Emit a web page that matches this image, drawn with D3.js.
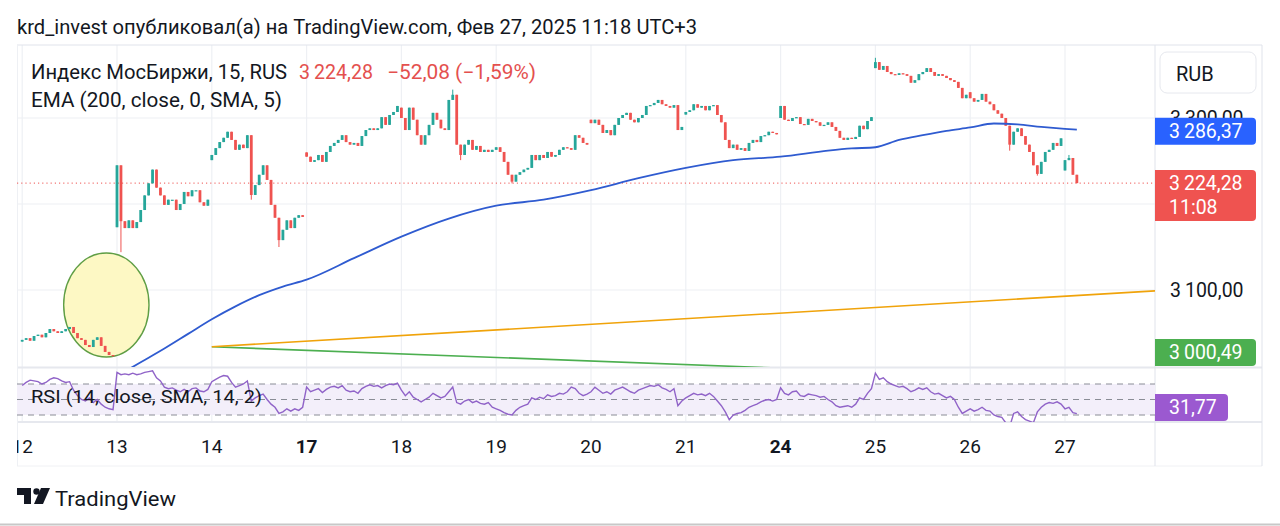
<!DOCTYPE html>
<html>
<head>
<meta charset="utf-8">
<title>IMOEX 15</title>
<script src="https://d3js.org/d3.v7.min.js"></script>
<style>
  body { margin: 0; background: #fff; }
</style>
</head>
<body>
<div id="chart"></div>
<script>
// ---- data ----
var days = ["12", "13", "14", "17", "18", "19", "20", "21", "24", "25", "26", "27"]
var boldDays = ["17", "24"]
var barsPerDay = 24

// open of the first bar of every day (gaps)
var dayOpens = [3040, 3173, 3251, 3260, 3312, 3263, 3298, 3304, 3300, 3358, 3330, 3239]

// closes of the 15 min bars (every second bar)
var close12 = [3042, 3044, 3041, 3046.5, 3048, 3045, 3050, 3054.6, 3052, 3050, 3052, 3054.6, 3057, 3050, 3044, 3042, 3036, 3033.7, 3042, 3045, 3035, 3028, 3024.4, 3023]
var close13 = [3245, 3180, 3172, 3181, 3172, 3179, 3193, 3210, 3224, 3240, 3219, 3210, 3199, 3205, 3205, 3193, 3200, 3214, 3209, 3216, 3216, 3202, 3198, 3205]
var close14 = [3257, 3265, 3272, 3277, 3284, 3274.5, 3263, 3269, 3265, 3280, 3210.5, 3222, 3234, 3245, 3228, 3199, 3184, 3158, 3170, 3181, 3172, 3184, 3187, 3185]
var close17 = [3255, 3249, 3251, 3257, 3249, 3260.5, 3267.5, 3271, 3274.5, 3280, 3272, 3269, 3271, 3267.5, 3279, 3286, 3288, 3286, 3288, 3301, 3292, 3303.5, 3307, 3314]
var close18 = [3300, 3286, 3312, 3298, 3280, 3269, 3280, 3292, 3306, 3298, 3288, 3286, 3321, 3327, 3269, 3257, 3269, 3274.5, 3263, 3267.5, 3260.5, 3263, 3260.5, 3263]
var close19 = [3266, 3260.5, 3249, 3234, 3226, 3234, 3237, 3240, 3242, 3257, 3251, 3257, 3253.5, 3260.5, 3255, 3257, 3263, 3266, 3265, 3263, 3280, 3277, 3271, 3269]
var close20 = [3294, 3298, 3292, 3282.6, 3286, 3280, 3292, 3300, 3303.5, 3306, 3298, 3295, 3300, 3303.5, 3314, 3315, 3317.5, 3321, 3316, 3314, 3312, 3315, 3286, 3289.6]
var close21 = [3307, 3309, 3316, 3312, 3314, 3309, 3314, 3315, 3303.5, 3295, 3274.5, 3265, 3269, 3263, 3265, 3261.7, 3271, 3274.5, 3272, 3279, 3280, 3284, 3282.6, 3281]
var close24 = [3314, 3298, 3296.5, 3300, 3301, 3293, 3292, 3299, 3296.5, 3295, 3291, 3292, 3295, 3289.6, 3285, 3277, 3274.5, 3277, 3275.6, 3278, 3291, 3287, 3296.5, 3301]
var close25 = [3365, 3356, 3360.5, 3353.5, 3351, 3350, 3352, 3351, 3349, 3341, 3344, 3351, 3353.5, 3358, 3353.5, 3349, 3351, 3349, 3346.5, 3344, 3342, 3335, 3323, 3327]
var close26 = [3323, 3319, 3321, 3328, 3319, 3316, 3309, 3305, 3300, 3291, 3269, 3284, 3288, 3279, 3269, 3260.5, 3245, 3235, 3249, 3260.5, 3263, 3271, 3267.5, 3276.36]
var close27 = [3251, 3253.5, 3234, 3224.28]

// long wicks: [bar index, high, low]
var wicks = [[24, 3245, 3173], [25, 3245, 3144], [58, 3280, 3205], [65, 3170, 3150], [109, 3333, 3321],
  [111, 3269, 3251], [124, 3234, 3224], [216, 3370, 3358], [250, 3291, 3262], [257, 3245, 3233], [265, 3257, 3251]]

// EMA(200) line: bar index -> value
var emaBars = [24, 30, 36, 42, 48, 54, 60, 66, 72, 84, 96, 108, 120, 132, 144, 156, 168, 180, 192, 204, 210, 216, 222, 228, 234, 240, 246, 252, 258, 264, 267]
var emaVals = [3000, 3016, 3032, 3049, 3066, 3081, 3094, 3104, 3112, 3137, 3162, 3183, 3198, 3205, 3216, 3230, 3242, 3251, 3255, 3262, 3264.6, 3266, 3274.5, 3280, 3285, 3289, 3293.6, 3292.5, 3289.6, 3287.3, 3286.37]

// RSI(14)
var rsi12 = [68, 72, 75, 74, 73, 70, 72, 76, 78, 77, 74, 72, 73, 62, 55, 50, 48, 52, 46, 50, 44, 40, 38, 37]
var rsi13 = [85, 82, 83, 82, 84, 82, 83, 85, 86, 87, 78, 74, 66, 64, 65, 62, 60, 63, 60, 64, 65, 61, 60, 63]
var rsi14 = [73, 76, 79, 81, 80, 72, 66, 68, 70, 74, 48, 52, 55, 57, 50, 44, 40, 32, 34, 38, 35, 38, 36, 40]
var rsi17 = [66, 60, 62, 64, 59, 63, 66, 67, 65, 68, 62, 60, 61, 58, 64, 67, 69, 67, 68, 65, 68, 70, 69, 71]
var rsi18 = [62, 55, 60, 53, 50, 47, 50, 53, 58, 55, 52, 54, 60, 66, 46, 44, 48, 50, 46, 48, 45, 44, 46, 40]
var rsi19 = [38, 36, 33, 31, 30, 36, 40, 42, 44, 52, 50, 53, 51, 56, 54, 55, 58, 57, 60, 66, 64, 58, 55, 57]
var rsi20 = [60, 66, 62, 58, 60, 57, 62, 64, 66, 63, 60, 58, 62, 64, 66, 68, 67, 69, 65, 63, 60, 64, 42, 48]
var rsi21 = [52, 55, 58, 56, 57, 55, 58, 54, 48, 42, 34, 24, 30, 32, 33, 36, 40, 42, 44, 47, 49, 50, 48, 50]
var rsi24 = [65, 58, 56, 60, 61, 55, 54, 57, 56, 55, 53, 54, 50, 47, 42, 40, 41, 42, 40, 44, 52, 50, 58, 64]
var rsi25 = [84, 76, 78, 73, 70, 68, 66, 67, 64, 60, 62, 65, 63, 65, 60, 57, 58, 55, 52, 54, 50, 40, 32, 35]
var rsi26 = [38, 35, 37, 40, 36, 35, 30, 28, 27, 20, 15, 32, 34, 28, 24, 22, 20, 34, 40, 44, 46, 45, 47, 44]
var rsi27 = [38, 40, 33, 31.77]

// drawings
var yellowLine = [[48, 3034], [287, 3099]]
var greenLine = [[48, 3034], [184, 3010.5]]
var circleMark = {bar: 21.3, price: 3082.6, bars: 10.8, points: 60.5}

// 3 200,00 sits under the red price badge, so it is not shown
var priceTicks = [3100, 3300]
var lastPrice = 3224.28, emaLast = 3286.37, greenLast = 3000.49, rsiLast = 31.77

// ---- layout ----
var W = 1280, H = 526
var left = 17, plotRight = 1155, axisRight = 1262
var paneTop = 45, mainBottom = 367, rsiBottom = 422, axisBottom = 466
var font = "Roboto, 'Noto Sans', sans-serif"
var up = "#26a69a", down = "#ef5350"

var closes = [].concat(close12, close13, close14, close17, close18, close19, close20, close21, close24, close25, close26, close27)
var rsi = [].concat(rsi12, rsi13, rsi14, rsi17, rsi18, rsi19, rsi20, rsi21, rsi24, rsi25, rsi26, rsi27)

var candles = []
closes.forEach(function (c, i) {
  var o = (i % barsPerDay === 0) ? dayOpens[i / barsPerDay] : closes[i - 1]
  candles.push({i: i, o: o, c: c, h: Math.max(o, c), l: Math.min(o, c)})
})
wicks.forEach(function (w) {
  var d = candles[w[0]]
  d.h = Math.max(d.h, w[1]); d.l = Math.min(d.l, w[2])
})

var x = d3.scaleLinear().domain([0, 288]).range([22.2, 22.2 + 288 * 3.95])
var y = d3.scaleLinear().domain([3100, 3300]).range([290, 118])
var yr = d3.scaleLinear().domain([30, 70]).range([415, 384])

var loc = d3.formatLocale({decimal: ",", thousands: "\u2009", grouping: [3], currency: ["", ""]})
var fmt = loc.format(",.2f")

var svg = d3.select("#chart").append("svg")
  .attr("width", W).attr("height", H)
  .style("font-family", font)

var defs = svg.append("defs")
defs.append("clipPath").attr("id", "mainClip").append("rect")
  .attr("x", left).attr("y", paneTop).attr("width", plotRight - left).attr("height", mainBottom - paneTop)
defs.append("clipPath").attr("id", "rsiClip").append("rect")
  .attr("x", left).attr("y", mainBottom).attr("width", plotRight - left).attr("height", rsiBottom - mainBottom)
defs.append("clipPath").attr("id", "timeClip").append("rect")
  .attr("x", left).attr("y", rsiBottom).attr("width", plotRight - left).attr("height", axisBottom - rsiBottom)

// header
svg.append("text").attr("x", 17).attr("y", 34)
  .attr("font-size", 20).attr("fill", "#131722")
  .attr("textLength", 680).attr("lengthAdjust", "spacingAndGlyphs")
  .text("krd_invest опубликовал(а) на TradingView.com, Фев 27, 2025 11:18 UTC+3")

// grid
var grid = svg.append("g")
grid.selectAll(".hg").data([3100, 3200, 3300]).enter().append("line")
  .attr("x1", left).attr("x2", plotRight)
  .attr("y1", function (d) { return y(d) }).attr("y2", function (d) { return y(d) })
  .attr("stroke", "#eef0f4").attr("stroke-width", 1.2)
grid.selectAll(".vg").data(days).enter().append("line")
  .attr("x1", function (d, i) { return x(i * barsPerDay) }).attr("x2", function (d, i) { return x(i * barsPerDay) })
  .attr("y1", paneTop).attr("y2", rsiBottom)
  .attr("stroke", "#eef0f4").attr("stroke-width", 1.2)

// frame
var frame = svg.append("g").attr("stroke", "#e0e3eb").attr("stroke-width", 1)
frame.append("line").attr("x1", left).attr("x2", axisRight).attr("y1", paneTop).attr("y2", paneTop)
frame.append("line").attr("x1", left).attr("x2", axisRight).attr("y1", mainBottom + 0.5).attr("y2", mainBottom + 0.5).attr("stroke", "#e6e8ee").attr("stroke-width", 2)
frame.append("line").attr("x1", left).attr("x2", axisRight).attr("y1", rsiBottom).attr("y2", rsiBottom).attr("stroke", "#e6e8ee").attr("stroke-width", 2)
frame.append("line").attr("x1", left).attr("x2", axisRight).attr("y1", axisBottom).attr("y2", axisBottom).attr("stroke", "#f0f1f4")
frame.append("line").attr("x1", left + 0.5).attr("x2", left + 0.5).attr("y1", paneTop).attr("y2", axisBottom).attr("stroke", "#eef0f4")
frame.append("line").attr("x1", plotRight).attr("x2", plotRight).attr("y1", paneTop).attr("y2", axisBottom)
frame.append("line").attr("x1", axisRight).attr("x2", axisRight).attr("y1", paneTop).attr("y2", axisBottom)

// main pane
var main = svg.append("g").attr("clip-path", "url(#mainClip)")

main.append("ellipse")
  .attr("cx", x(circleMark.bar)).attr("cy", y(circleMark.price))
  .attr("rx", x(circleMark.bar + circleMark.bars) - x(circleMark.bar))
  .attr("ry", y(circleMark.price - circleMark.points) - y(circleMark.price))
  .attr("fill", "#fdf8c4").attr("stroke", "#5f9e45").attr("stroke-width", 1.4)

// current price dotted line
main.append("line")
  .attr("x1", left).attr("x2", plotRight)
  .attr("y1", y(lastPrice)).attr("y2", y(lastPrice))
  .attr("stroke", down).attr("stroke-width", 1).attr("stroke-dasharray", "1.2,3")

var bars = main.append("g")
bars.selectAll(".wick").data(candles).enter().append("line")
  .attr("x1", function (d) { return x(d.i) }).attr("x2", function (d) { return x(d.i) })
  .attr("y1", function (d) { return y(d.h) }).attr("y2", function (d) { return y(d.l) })
  .attr("stroke", function (d) { return d.c >= d.o ? up : down }).attr("stroke-width", 1)
bars.selectAll(".body").data(candles).enter().append("rect")
  .attr("x", function (d) { return x(d.i) - 1.4 })
  .attr("width", 2.8)
  .attr("y", function (d) { return y(Math.max(d.o, d.c)) })
  .attr("height", function (d) { return Math.max(1.2, Math.abs(y(d.o) - y(d.c))) })
  .attr("fill", function (d) { return d.c >= d.o ? up : down })

// EMA
var emaPts = emaBars.map(function (b, i) { return [b, emaVals[i]] })
main.append("path").datum(emaPts)
  .attr("fill", "none").attr("stroke", "#2f5bd0").attr("stroke-width", 1.8)
  .attr("d", d3.line().x(function (d) { return x(d[0]) }).y(function (d) { return y(d[1]) }).curve(d3.curveMonotoneX))

// trend lines (rays to the right edge)
function ray(pts, color) {
  var slope = (pts[1][1] - pts[0][1]) / (pts[1][0] - pts[0][0])
  var endBar = x.invert(plotRight)
  main.append("line")
    .attr("x1", x(pts[0][0])).attr("y1", y(pts[0][1]))
    .attr("x2", x(endBar)).attr("y2", y(pts[0][1] + slope * (endBar - pts[0][0])))
    .attr("stroke", color).attr("stroke-width", 1.6)
}
ray(greenLine, "#4caf50")
ray(yellowLine, "#f0a30a")

// legend
var leg = svg.append("g").attr("font-size", 19.5).attr("fill", "#131722")
leg.append("text").attr("x", 31).attr("y", 79)
  .attr("textLength", 256).attr("lengthAdjust", "spacingAndGlyphs").text("Индекс МосБиржи, 15, RUS")
leg.append("text").attr("x", 299).attr("y", 79).attr("fill", "#e4504e")
  .attr("textLength", 74).attr("lengthAdjust", "spacingAndGlyphs").text("3\u2009224,28")
leg.append("text").attr("x", 387).attr("y", 79).attr("fill", "#e4504e")
  .attr("textLength", 149).attr("lengthAdjust", "spacingAndGlyphs").text("\u221252,08 (\u22121,59%)")
leg.append("text").attr("x", 31).attr("y", 107)
  .attr("textLength", 251).attr("lengthAdjust", "spacingAndGlyphs").text("EMA (200, close, 0, SMA, 5)")

// RSI pane
var rp = svg.append("g").attr("clip-path", "url(#rsiClip)")
rp.append("rect").attr("x", left).attr("width", plotRight - left)
  .attr("y", yr(70)).attr("height", yr(30) - yr(70)).attr("fill", "#f3effa")
rp.selectAll(".lvl").data([70, 50, 30]).enter().append("line")
  .attr("x1", left).attr("x2", plotRight)
  .attr("y1", function (d) { return yr(d) }).attr("y2", function (d) { return yr(d) })
  .attr("stroke", "#8a8d96").attr("stroke-width", 1).attr("stroke-dasharray", "6,5")
rp.append("path").datum(rsi)
  .attr("fill", "none").attr("stroke", "#9063c8").attr("stroke-width", 1.4)
  .attr("d", d3.line().x(function (d, i) { return x(i) }).y(function (d) { return yr(d) }))
svg.append("text").attr("x", 31).attr("y", 403).attr("font-size", 19).attr("fill", "#131722")
  .attr("textLength", 231).attr("lengthAdjust", "spacingAndGlyphs").text("RSI (14, close, SMA, 14, 2)")

// time axis
var ta = svg.append("g").attr("clip-path", "url(#timeClip)")
ta.selectAll("text").data(days).enter().append("text")
  .attr("x", function (d, i) { return x(i * barsPerDay) }).attr("y", 453)
  .attr("text-anchor", "middle").attr("font-size", 19).attr("fill", "#131722")
  .attr("font-weight", function (d) { return boldDays.indexOf(d) >= 0 ? 700 : 400 })
  .text(function (d) { return d })

// price axis
var pa = svg.append("g").attr("font-size", 19.5)
pa.selectAll(".tick").data(priceTicks)
  .enter().append("text")
  .attr("x", 1170).attr("y", function (d) { return y(d) + 7 })
  .attr("fill", "#131722").text(function (d) { return fmt(d) })

pa.append("rect").attr("x", 1160).attr("y", 52).attr("width", 96).attr("height", 41).attr("rx", 7)
  .attr("fill", "#fff").attr("stroke", "#e6e8ee")
pa.append("text").attr("x", 1176).attr("y", 81).attr("font-size", 20).attr("fill", "#131722").text("RUB")

function badge(yc, w, h, color, lines) {
  var g = pa.append("g")
  g.append("path")
    .attr("d", "M" + plotRight + "," + (yc - h / 2) + " H" + (plotRight + w - 4) +
      " Q" + (plotRight + w) + "," + (yc - h / 2) + " " + (plotRight + w) + "," + (yc - h / 2 + 4) +
      " V" + (yc + h / 2 - 4) + " Q" + (plotRight + w) + "," + (yc + h / 2) + " " + (plotRight + w - 4) + "," + (yc + h / 2) +
      " H" + plotRight + " Z")
    .attr("fill", color)
  lines.forEach(function (t, k) {
    g.append("text").attr("x", 1169).attr("y", yc - h / 2 + 20 + k * 24)
      .attr("fill", "#fff").text(t)
  })
}
badge(y(emaLast) + 1.5, 101, 27, "#2962ff", [fmt(emaLast)])
badge(y(lastPrice) - 13 + 25.5, 101, 51, "#ef5350", [fmt(lastPrice), "11:08"])
badge(Math.min(y(greenLast), mainBottom - 14.5), 101, 27, "#4caf50", [fmt(greenLast)])
badge(Math.min(yr(rsiLast), rsiBottom - 14.5), 73, 27, "#9b59d0", [loc.format(".2f")(rsiLast)])

// TradingView logo
var logo = svg.append("g").attr("fill", "#131722")
logo.append("path").attr("d", "M17,488 H31 V504 H24 V495 H17 Z")
logo.append("circle").attr("cx", 36.5).attr("cy", 491.5).attr("r", 3.2)
logo.append("path").attr("d", "M41,488 H50 L43,504 H34 Z")
svg.append("text").attr("x", 55).attr("y", 506).attr("font-size", 21).attr("fill", "#131722")
  .attr("textLength", 121).attr("lengthAdjust", "spacingAndGlyphs").text("TradingView")

svg.append("line").attr("x1", 0).attr("x2", W).attr("y1", 524.5).attr("y2", 524.5)
  .attr("stroke", "#c8c8c8").attr("stroke-width", 2)
</script>
</body>
</html>
